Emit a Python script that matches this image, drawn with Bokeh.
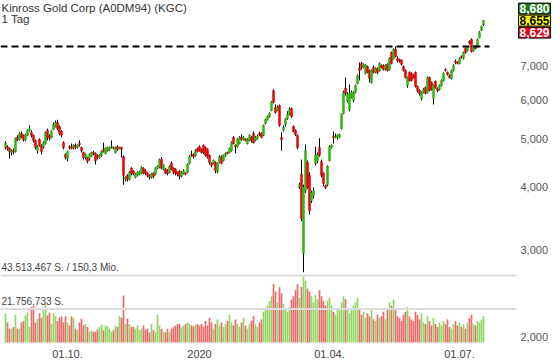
import numpy as np
import pandas as pd
from bokeh.plotting import figure
from bokeh.models import ColumnDataSource, Range1d, LinearScale, Label
from bokeh.core.properties import value
from bokeh.embed import file_html
from bokeh.resources import INLINE

title_text = "Kinross Gold Corp (A0DM94) (KGC)"
period_text = "1 Tag"
start_date = "2019-08-19"
end_date = "2020-07-17"

open_ = [4.81, 4.83, 4.79, 4.70, 4.74, 4.72, 5.04, 4.99, 5.13, 5.09,
         4.99, 5.09, 5.21, 5.16, 5.09, 4.97, 4.74, 4.99, 4.86, 4.83,
         4.90, 5.21, 5.07, 5.04, 5.23, 5.30, 5.40, 5.30, 5.18, 4.92,
         4.66, 4.57, 4.83, 4.83, 4.81, 4.86, 4.81, 4.90, 4.81, 4.70,
         4.59, 4.59, 4.57, 4.64, 4.70, 4.68, 4.64, 4.59, 4.64, 4.77,
         4.68, 4.74, 4.77, 4.83, 4.81, 4.70, 4.83, 4.79, 4.81, 4.61,
         4.15, 4.23, 4.15, 4.37, 4.31, 4.19, 4.23, 4.25, 4.27, 4.37,
         4.31, 4.27, 4.23, 4.19, 4.27, 4.25, 4.37, 4.39, 4.55, 4.35,
         4.35, 4.32, 4.29, 4.47, 4.37, 4.35, 4.29, 4.31, 4.21, 4.27,
         4.27, 4.29, 4.47, 4.66, 4.66, 4.64, 4.79, 4.83, 4.77, 4.86,
         4.81, 4.77, 4.64, 4.47, 4.47, 4.49, 4.30, 4.49, 4.61, 4.53,
         4.64, 4.70, 4.70, 4.74, 5.04, 4.86, 4.83, 4.90, 5.04, 4.99,
         4.99, 4.90, 4.97, 5.04, 5.13, 4.97, 5.02, 5.13, 5.13, 5.09,
         5.38, 5.47, 5.55, 5.71, 6.26, 5.79, 5.71, 5.84, 5.04, 5.21,
         5.35, 5.50, 5.61, 5.76, 5.30, 5.21, 5.09, 4.00, 4.25, 2.95,
         3.94, 4.49, 4.23, 3.76, 3.85, 4.47, 4.53, 4.81, 4.51, 4.27,
         4.03, 4.05, 4.53, 4.81, 5.07, 5.04, 5.04, 5.04, 5.25, 5.63,
         6.33, 5.98, 5.74, 6.07, 5.98, 6.21, 6.47, 6.94, 7.10, 6.97,
         6.78, 7.00, 6.87, 6.50, 6.97, 6.81, 6.94, 6.87, 7.03, 7.03,
         6.90, 7.07, 6.90, 7.47, 7.26, 7.58, 7.26, 7.23, 7.20, 7.00,
         6.87, 6.41, 6.81, 6.78, 6.71, 6.81, 6.38, 6.26, 6.04, 6.21,
         6.35, 6.21, 6.65, 6.50, 6.04, 6.53, 6.33, 6.29, 6.41, 6.56,
         6.90, 6.81, 6.71, 6.62, 6.87, 7.17, 7.13, 7.10, 7.33, 7.26,
         7.61, 7.54, 7.86, 7.93, 7.54, 7.65, 7.68, 8.00, 8.27, 8.50]

close = [4.90, 4.79, 4.72, 4.74, 4.72, 5.02, 4.99, 5.13, 5.04, 4.99,
         5.11, 5.21, 5.25, 5.09, 4.97, 4.81, 4.83, 4.86, 4.72, 4.92,
         5.16, 5.04, 5.02, 5.18, 5.35, 5.40, 5.25, 5.13, 5.09, 4.81,
         4.59, 4.72, 4.81, 4.79, 4.86, 4.81, 4.86, 4.88, 4.74, 4.59,
         4.66, 4.51, 4.66, 4.70, 4.68, 4.53, 4.59, 4.64, 4.72, 4.72,
         4.79, 4.81, 4.81, 4.84, 4.79, 4.81, 4.77, 4.81, 4.77, 4.23,
         4.19, 4.15, 4.29, 4.27, 4.25, 4.25, 4.29, 4.30, 4.39, 4.27,
         4.27, 4.23, 4.19, 4.25, 4.21, 4.37, 4.41, 4.55, 4.37, 4.43,
         4.27, 4.27, 4.41, 4.35, 4.29, 4.27, 4.25, 4.21, 4.29, 4.32,
         4.25, 4.45, 4.61, 4.64, 4.61, 4.74, 4.72, 4.74, 4.70, 4.70,
         4.64, 4.61, 4.49, 4.43, 4.53, 4.32, 4.47, 4.61, 4.47, 4.64,
         4.68, 4.68, 4.79, 4.92, 4.90, 4.83, 4.99, 5.04, 4.99, 5.04,
         4.97, 4.99, 5.09, 4.97, 4.92, 5.04, 5.07, 5.11, 5.04, 5.33,
         5.47, 5.55, 5.63, 5.93, 5.93, 5.66, 5.79, 5.33, 4.99, 5.28,
         5.50, 5.61, 5.74, 5.55, 5.18, 5.11, 4.81, 4.05, 3.46, 4.00,
         4.74, 4.00, 3.59, 3.90, 3.94, 4.64, 4.66, 4.64, 4.23, 4.07,
         4.00, 4.41, 4.83, 4.86, 5.04, 5.07, 5.09, 5.11, 5.61, 6.21,
         6.18, 6.15, 6.18, 6.21, 6.21, 6.41, 6.71, 6.87, 6.97, 7.07,
         7.03, 6.81, 6.62, 6.87, 6.81, 6.94, 6.81, 7.10, 6.97, 6.90,
         7.03, 6.87, 7.26, 7.10, 7.58, 7.33, 7.20, 7.17, 7.07, 6.87,
         6.65, 6.65, 6.56, 6.56, 6.65, 6.38, 6.26, 6.18, 6.21, 6.29,
         6.18, 6.65, 6.26, 6.29, 6.41, 6.35, 6.26, 6.41, 6.56, 6.78,
         6.87, 6.75, 6.65, 6.87, 7.03, 7.13, 7.10, 7.26, 7.30, 7.47,
         7.47, 7.65, 7.79, 7.50, 7.68, 7.61, 7.93, 8.20, 8.42, 8.655]

high = [4.95, 4.86, 4.81, 4.77, 4.79, 5.04, 5.09, 5.16, 5.18, 5.11,
        5.13, 5.23, 5.33, 5.21, 5.11, 4.99, 4.86, 5.02, 4.88, 4.95,
        5.18, 5.25, 5.11, 5.21, 5.40, 5.45, 5.47, 5.33, 5.21, 4.95,
        4.68, 4.74, 4.86, 4.90, 4.88, 4.90, 4.88, 4.97, 4.83, 4.72,
        4.68, 4.61, 4.68, 4.72, 4.74, 4.70, 4.66, 4.66, 4.74, 4.92,
        4.81, 4.83, 4.83, 4.97, 4.83, 4.83, 4.86, 4.83, 4.83, 4.64,
        4.21, 4.25, 4.31, 4.39, 4.33, 4.27, 4.31, 4.32, 4.41, 4.39,
        4.35, 4.29, 4.25, 4.27, 4.29, 4.39, 4.43, 4.57, 4.60, 4.45,
        4.37, 4.35, 4.43, 4.51, 4.39, 4.37, 4.31, 4.33, 4.31, 4.35,
        4.29, 4.47, 4.64, 4.74, 4.68, 4.77, 4.81, 4.86, 4.79, 4.88,
        4.83, 4.79, 4.66, 4.49, 4.55, 4.51, 4.49, 4.64, 4.64, 4.66,
        4.70, 4.72, 4.81, 4.95, 5.07, 4.88, 5.02, 5.07, 5.11, 5.07,
        5.02, 5.02, 5.11, 5.07, 5.18, 5.07, 5.11, 5.18, 5.16, 5.35,
        5.50, 5.58, 5.66, 5.96, 6.30, 5.87, 5.84, 5.87, 5.16, 5.33,
        5.52, 5.69, 5.79, 5.79, 5.33, 5.23, 5.11, 4.09, 4.55, 4.05,
        4.88, 4.53, 4.29, 3.94, 4.00, 4.83, 4.70, 5.02, 4.55, 4.29,
        4.05, 4.43, 4.86, 4.88, 5.18, 5.13, 5.11, 5.13, 5.63, 6.26,
        6.65, 6.21, 6.44, 6.26, 6.24, 6.44, 6.75, 7.13, 7.15, 7.10,
        7.07, 7.03, 6.90, 6.90, 7.03, 6.97, 6.97, 7.13, 7.07, 7.07,
        7.07, 7.10, 7.30, 7.50, 7.61, 7.68, 7.33, 7.26, 7.23, 7.03,
        6.90, 6.68, 6.84, 6.81, 6.75, 6.84, 6.41, 6.30, 6.24, 6.33,
        6.38, 6.68, 6.68, 6.53, 6.44, 6.56, 6.35, 6.44, 6.59, 6.81,
        6.94, 6.84, 6.75, 6.90, 7.07, 7.23, 7.17, 7.30, 7.37, 7.50,
        7.65, 7.68, 7.90, 7.97, 7.72, 7.72, 7.97, 8.24, 8.46, 8.68]

low = [4.77, 4.74, 4.57, 4.64, 4.66, 4.70, 4.95, 4.97, 5.02, 4.95,
       4.95, 5.07, 5.18, 5.04, 4.92, 4.77, 4.68, 4.83, 4.66, 4.79,
       4.88, 4.97, 4.97, 5.02, 5.21, 5.28, 5.21, 5.09, 5.04, 4.77,
       4.55, 4.51, 4.77, 4.77, 4.77, 4.77, 4.79, 4.83, 4.70, 4.55,
       4.55, 4.47, 4.53, 4.61, 4.64, 4.45, 4.55, 4.57, 4.61, 4.70,
       4.66, 4.72, 4.74, 4.79, 4.77, 4.68, 4.74, 4.77, 4.59, 4.05,
       4.11, 4.11, 4.13, 4.23, 4.23, 4.17, 4.21, 4.23, 4.25, 4.25,
       4.23, 4.19, 4.15, 4.17, 4.17, 4.23, 4.35, 4.37, 4.35, 4.33,
       4.25, 4.23, 4.27, 4.33, 4.25, 4.23, 4.21, 4.15, 4.19, 4.25,
       4.23, 4.27, 4.45, 4.61, 4.57, 4.61, 4.70, 4.72, 4.68, 4.66,
       4.61, 4.57, 4.45, 4.39, 4.45, 4.27, 4.27, 4.47, 4.45, 4.51,
       4.61, 4.66, 4.68, 4.72, 4.88, 4.68, 4.81, 4.88, 4.97, 4.97,
       4.95, 4.88, 4.95, 4.92, 4.90, 4.95, 4.99, 5.07, 5.02, 5.07,
       5.35, 5.45, 5.52, 5.69, 5.90, 5.63, 5.69, 5.30, 4.74, 5.18,
       5.30, 5.47, 5.58, 5.52, 5.16, 5.07, 4.77, 3.97, 3.42, 2.70,
       3.90, 3.97, 3.53, 3.72, 3.80, 4.43, 4.47, 4.61, 4.19, 4.02,
       3.97, 4.02, 4.51, 4.79, 4.90, 5.02, 4.99, 5.02, 5.23, 5.61,
       6.12, 5.93, 5.69, 6.04, 5.93, 6.18, 6.44, 6.56, 6.90, 6.94,
       6.75, 6.78, 6.50, 6.47, 6.78, 6.78, 6.75, 6.84, 6.94, 6.87,
       6.87, 6.84, 6.87, 7.07, 7.23, 7.30, 7.13, 7.13, 7.03, 6.84,
       6.62, 6.35, 6.53, 6.53, 6.62, 6.35, 6.21, 6.12, 5.98, 6.18,
       6.15, 6.18, 6.24, 6.26, 5.87, 6.32, 6.21, 6.26, 6.38, 6.53,
       6.84, 6.71, 6.62, 6.59, 6.84, 7.07, 7.07, 7.07, 7.26, 7.23,
       7.43, 7.50, 7.75, 7.47, 7.50, 7.58, 7.65, 7.97, 8.24, 8.45]

# volume in millions of shares
volume_mio = [19, 13, 9, 9, 10, 18, 9, 9, 13, 14,
              17.5, 19.5, 10, 23, 24, 13, 15.5, 19, 16, 21,
              25, 17.5, 19.5, 12, 19, 17, 14, 16, 17, 13,
              17, 13, 11, 17, 16, 9, 8, 13, 15.5, 11,
              12, 10, 7, 8, 7, 7, 8.5, 10, 11.5, 8,
              11, 10.5, 9, 7, 8, 11, 10, 17, 16, 30.5,
              12, 15.5, 12, 10, 10, 9, 11, 8, 9, 11,
              8.5, 9, 6.5, 12, 8, 7, 18, 11, 9, 7,
              6.5, 9, 7, 9, 10, 11, 12, 12, 10, 11,
              12, 13, 12, 11, 10.5, 11.5, 12, 11, 12, 10,
              14, 11, 16, 13, 9, 12, 15, 11, 13, 10,
              12, 14, 18, 13, 11, 15, 12, 10, 13, 16,
              11, 9, 12, 14, 17, 12, 10, 13, 15, 20,
              22, 24, 27, 30, 38, 33, 26, 36, 32, 25,
              22, 20, 23, 28, 30, 34, 38, 29, 36, 43.513467,
              40, 35, 33, 30, 26, 31, 28, 34, 30, 27,
              24, 27, 29, 24, 20, 18, 22, 21, 26, 30,
              28, 22, 19, 21, 24, 26, 29, 22, 18, 20,
              16, 19, 17, 21, 15, 14, 18, 16, 17, 20,
              15, 22, 26, 24, 28, 21, 17, 16, 14, 18,
              20, 23, 17, 15, 14, 20, 18, 15, 19, 13,
              12, 17, 14, 11, 16, 12, 10, 13, 11, 14,
              12, 15, 10, 9, 12, 14, 11, 13, 10, 12,
              9, 13, 16, 18, 12, 11, 14, 13, 15, 17]

quote_texts = ["8,680", "8,655", "8,629"]
turnover_text = "150,3 Mio."
price_ticks = [2, 3, 4, 5, 6, 7]
date_ticks = ["2019-10-01", "2020-01-01", "2020-04-01", "2020-07-01"]
date_tick_labels = ["01.10.", "2020", "01.04.", "01.07."]

dates = pd.bdate_range(start_date, end_date)
n = len(close)
assert len(dates) == n == len(open_) == len(high) == len(low) == len(volume_mio)

GREEN = "#34b414"
RED = "#dd0a0a"
VGREEN = "#8fd662"
VRED = "#ec6a6a"
FONT = "Liberation Sans"

inc = [c >= o for o, c in zip(open_, close)]
src = ColumnDataSource(dict(
    x=list(range(n)),
    o=open_, c=close, h=high, l=low,
    top=[max(o, c) for o, c in zip(open_, close)],
    bot=[min(o, c) for o, c in zip(open_, close)],
    col=[GREEN if u else RED for u in inc],
    vol=volume_mio,
    vcol=[VGREEN if u else VRED for u in inc],
))

# layout constants (x in candle-index units, 2 px per candle)
x_lo, x_hi = -2.5, 277.5
x_dash_end = 242
x_grid_end = 255.5
x_ylab = 257.5
x_quote = 256.5
y_lo, y_hi = 1.770, 9.50
vol_lo, vol_hi = -13.64, 222.1
vol_date_y = -7.5

p = figure(width=560, height=363, y_axis_type="log",
           x_axis_location=None, y_axis_location=None,
           x_range=Range1d(x_lo, x_hi), y_range=Range1d(y_lo, y_hi),
           output_backend="svg", toolbar_location=None,
           min_border_left=0, min_border_top=0, min_border_bottom=0,
           min_border_right=0)
p.extra_y_ranges = {"vol": Range1d(vol_lo, vol_hi)}
p.extra_y_scales = {"vol": LinearScale()}
p.outline_line_color = None
p.xgrid.visible = False
p.ygrid.visible = False
p.background_fill_color = "white"
p.border_fill_color = "white"

# volume
vmax = max(volume_mio)
p.vbar(x="x", top="vol", bottom=0, width=0.85, source=src, y_range_name="vol",
       fill_color="vcol", line_color=None)
p.segment(x0=[x_lo, x_lo], x1=[x_grid_end, x_grid_end], y0=[vmax, vmax / 2],
          y1=[vmax, vmax / 2], y_range_name="vol", line_color="#dcdcdc", line_width=2)
vmax_shares = int(round(vmax * 1e6))
half_shares = int(vmax * 1e6 / 2)
fmt = lambda v: f"{v:,}".replace(",", ".")
p.add_layout(Label(x=x_lo, y=vmax, y_range_name="vol", x_offset=1, y_offset=2,
                   text=f"{fmt(vmax_shares)} S. / {turnover_text}",
                   text_baseline="bottom", text_font=FONT,
                   text_font_size="10px", text_color="#444444"))
p.add_layout(Label(x=x_lo, y=vmax / 2, y_range_name="vol", x_offset=1, y_offset=2,
                   text=f"{fmt(half_shares)} S.",
                   text_baseline="bottom", text_font=FONT,
                   text_font_size="10px", text_color="#444444"))

# candles
p.segment(x0="x", y0="l", x1="x", y1="h", source=src, line_color="black", line_width=1)
p.vbar(x="x", top="top", bottom="bot", width=1.05, source=src,
       fill_color="col", line_color="col", line_width=0.5)

# resistance line at the prior high
resistance = max(high[:225])
p.segment(x0=[x_lo], x1=[x_dash_end], y0=[resistance], y1=[resistance],
          line_color="black", line_dash="7 4", line_width=2)

# price scale labels (right side)
p.text(x=[x_ylab] * len(price_ticks), y=price_ticks,
       text=[f"{t:.3f}".replace(".", ",") for t in price_ticks],
       text_baseline="middle", text_align="left", text_font=value(FONT),
       text_font_size="11px", text_color="#555555")

# date labels
tick_idx = [int(np.searchsorted(dates.values, np.datetime64(d))) for d in date_ticks]
p.text(x=tick_idx, y=[vol_date_y] * len(tick_idx), text=date_tick_labels,
       y_range_name="vol", text_baseline="middle", text_align="center",
       text_font=value(FONT), text_font_size="11px", text_color="#444444")

# title
p.add_layout(Label(x=x_lo, y=y_hi, x_offset=1, y_offset=-1, text=title_text,
                   text_baseline="top", text_font=FONT,
                   text_font_size="11.5px", text_color="#333333"))
p.add_layout(Label(x=x_lo, y=y_hi, x_offset=1, y_offset=-12, text=period_text,
                   text_baseline="top", text_font=FONT,
                   text_font_size="11.5px", text_color="#333333"))

# quote boxes
box_styles = [("#1f7a1f", "white", 12), ("#ffff00", "black", 0), ("#e0001a", "white", -12)]
for txt, (bg, fg, dy) in zip(quote_texts, box_styles):
    p.add_layout(Label(x=x_quote, y=close[-1], y_offset=dy, text=txt,
                       text_baseline="middle", text_align="left",
                       text_font=FONT, text_font_size="12px",
                       text_font_style="bold", text_color=fg,
                       background_fill_color=bg, border_line_color="black",
                       border_line_width=1, padding=1))

open("out.html", "w").write(file_html(p, INLINE))
